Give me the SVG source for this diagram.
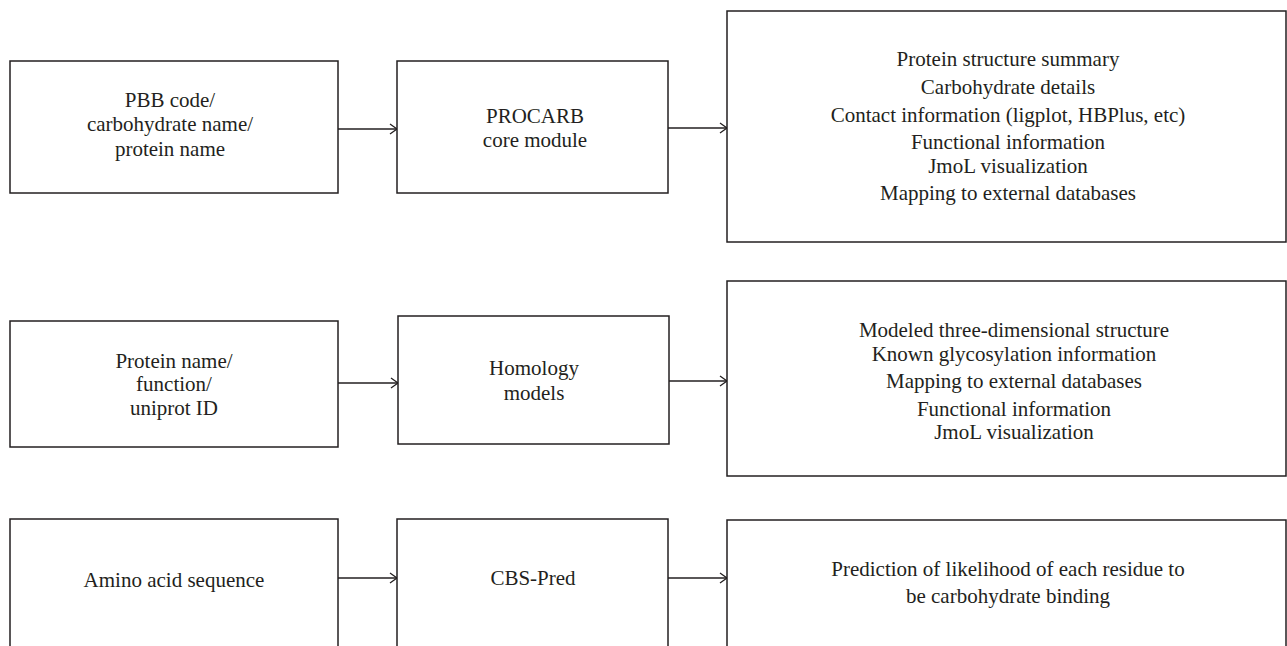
<svg xmlns="http://www.w3.org/2000/svg" width="1287" height="646" viewBox="0 0 1287 646">
<style>
.box{fill:#fff;stroke:#231f20;stroke-width:1.5}
.t{font-family:"Liberation Serif","Times New Roman",serif;font-size:21px;fill:#231f20;text-anchor:middle}
.c{fill:none;stroke:#231f20;stroke-width:1.3}
</style>
<defs>
<marker id="arr" markerWidth="12" markerHeight="12" refX="9" refY="6" orient="auto" markerUnits="userSpaceOnUse">
<path d="M2,1 L9,6 L2,11" fill="none" stroke="#231f20" stroke-width="1.3"/>
</marker>
</defs>
<rect width="1287" height="646" fill="#fff"/>
<g id="connectors">
<line class="c" x1="338" y1="129" x2="397" y2="129" marker-end="url(#arr)"/>
<line class="c" x1="668" y1="128" x2="727" y2="128" marker-end="url(#arr)"/>
<line class="c" x1="338" y1="383" x2="398" y2="383" marker-end="url(#arr)"/>
<line class="c" x1="669" y1="381" x2="727" y2="381" marker-end="url(#arr)"/>
<line class="c" x1="338" y1="578" x2="397" y2="578" marker-end="url(#arr)"/>
<line class="c" x1="668" y1="578" x2="727" y2="578" marker-end="url(#arr)"/>
</g>
<g id="input1">
<rect class="box" x="10" y="61" width="328" height="132"/>
<text class="t" x="170" y="107">PBB code/</text>
<text class="t" x="170" y="131">carbohydrate name/</text>
<text class="t" x="170" y="156">protein name</text>
</g>
<g id="procarb">
<rect class="box" x="397" y="61" width="271" height="132"/>
<text class="t" x="535" y="123">PROCARB</text>
<text class="t" x="535" y="147">core module</text>
</g>
<g id="output1">
<rect class="box" x="727" y="11" width="559" height="231"/>
<text class="t" x="1008" y="66">Protein structure summary</text>
<text class="t" x="1008" y="94">Carbohydrate details</text>
<text class="t" x="1008" y="122">Contact information (ligplot, HBPlus, etc)</text>
<text class="t" x="1008" y="149">Functional information</text>
<text class="t" x="1008" y="173">JmoL visualization</text>
<text class="t" x="1008" y="200">Mapping to external databases</text>
</g>
<g id="input2">
<rect class="box" x="10" y="321" width="328" height="126"/>
<text class="t" x="174" y="368">Protein name/</text>
<text class="t" x="174" y="391">function/</text>
<text class="t" x="174" y="415">uniprot ID</text>
</g>
<g id="homology">
<rect class="box" x="398" y="316" width="271" height="128"/>
<text class="t" x="534" y="375">Homology</text>
<text class="t" x="534" y="400">models</text>
</g>
<g id="output2">
<rect class="box" x="727" y="281" width="559" height="195"/>
<text class="t" x="1014" y="337">Modeled three-dimensional structure</text>
<text class="t" x="1014" y="361">Known glycosylation information</text>
<text class="t" x="1014" y="388">Mapping to external databases</text>
<text class="t" x="1014" y="416">Functional information</text>
<text class="t" x="1014" y="439">JmoL visualization</text>
</g>
<g id="input3">
<rect class="box" x="10" y="519" width="328" height="140"/>
<text class="t" x="174" y="587">Amino acid sequence</text>
</g>
<g id="cbspred">
<rect class="box" x="397" y="519" width="271" height="140"/>
<text class="t" x="533" y="585">CBS-Pred</text>
</g>
<g id="output3">
<rect class="box" x="727" y="520" width="559" height="140"/>
<text class="t" x="1008" y="576">Prediction of likelihood of each residue to</text>
<text class="t" x="1008" y="603">be carbohydrate binding</text>
</g>
</svg>
